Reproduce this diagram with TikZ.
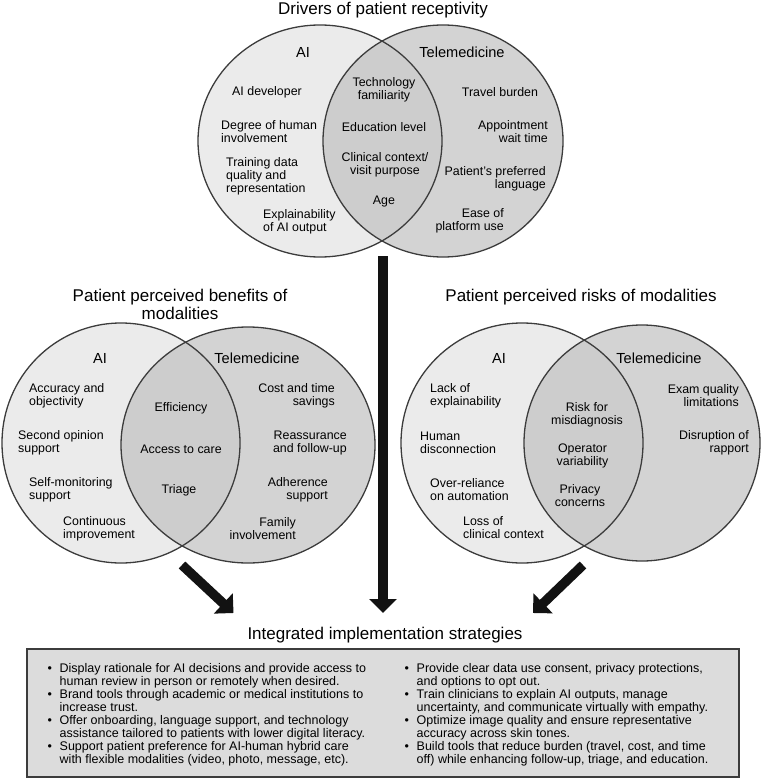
\documentclass[tikz,border=0pt]{standalone}
\usepackage{fontspec}
\setmainfont{Liberation Sans}
\usetikzlibrary{arrows.meta}
\definecolor{aifill}{HTML}{EBEBEB}
\definecolor{telefill}{HTML}{D3D3D3}
\definecolor{lensfill}{HTML}{CDCDCD}
\definecolor{ringcol}{HTML}{3C3C3C}
\definecolor{boxfill}{HTML}{DCDCDC}
\newcommand{\bul}{\makebox[12pt][l]{\textbullet}}
\newcommand{\ind}{\hspace*{12pt}}

\begin{document}
\begin{tikzpicture}[x=1pt, y=-1pt,
    heading/.style={font=\fontsize{17}{18}\selectfont, align=center, inner sep=0pt},
    setname/.style={font=\fontsize{14.6}{16}\selectfont, inner sep=0pt},
    entry/.style={font=\fontsize{12.4}{13}\selectfont, inner sep=0pt},
    ring/.style={draw=ringcol, line width=1.3pt},
    bigarrow/.style={line width=9.5pt, draw=black!93, -{Triangle[width=27pt,length=14pt]}},
    ]
    \useasboundingbox (0,0) rectangle (762,778);
    % Draw the three Venn diagrams (AI left, telemedicine right)
    \foreach \ax/\ay/\arx/\ary/\bx/\by/\brx/\bry in {320/141/122/116/443/141/120/116, 121/443/119/120/248/445/127/118, 522/443/121/120/642/443/118/118} {
        \fill[aifill] (\ax,\ay) ellipse [x radius=\arx pt, y radius=\ary pt];
        \fill[telefill] (\bx,\by) ellipse [x radius=\brx pt, y radius=\bry pt];
        \begin{scope}
            \clip (\ax,\ay) ellipse [x radius=\arx pt, y radius=\ary pt];
            \fill[lensfill] (\bx,\by) ellipse [x radius=\brx pt, y radius=\bry pt];
        \end{scope}
        \draw[ring] (\ax,\ay) ellipse [x radius=\arx pt, y radius=\ary pt];
        \draw[ring] (\bx,\by) ellipse [x radius=\brx pt, y radius=\bry pt];
    }
    % Headings
    \node[heading] (drivers) at (383,10) {Drivers of patient receptivity};
    \node[heading] (benefits) at (180,304) {Patient perceived benefits of\\modalities};
    \node[heading] (risks) at (581,297) {Patient perceived risks of modalities};
    \node[heading] (strategies) at (385,635) {Integrated implementation strategies};
    % Set names
    \foreach \n/\x/\y/\txt in {aiA/303/52/AI, telA/462/52/Telemedicine, aiB/100/358/AI, telB/257/358/Telemedicine, aiC/499/358/AI, telC/659/358/Telemedicine} {
        \node[setname] (\n) at (\x,\y) {\txt};
    }
    % Left-aligned entries
    \foreach \n/\x/\y/\txt in {dA1/232/92/{AI developer}, dA2/221/131.5/{Degree of human\\involvement}, dA3/226/176/{Training data\\quality and\\representation}, dA4/263/221.5/{Explainability\\of AI output},
        bA1/29/396/{Accuracy and\\objectivity}, bA2/18/443/{Second opinion\\support}, bA3/29/490/{Self-monitoring\\support}, bA4/63/528.5/{Continuous\\improvement},
        rA1/430/396/{Lack of\\explainability}, rA2/420/443/{Human\\disconnection}, rA3/430/490/{Over-reliance\\on automation}, rA4/463/528/{Loss of\\clinical context}} {
        \node[entry, anchor=west, align=left] (\n) at (\x,\y) {\txt};
    }
    % Centred entries
    \foreach \n/\x/\y/\txt in {dS1/384/90/{Technology\\familiarity}, dS2/384/127/{Education level}, dS3/385/165/{Clinical context/\\visit purpose}, dS4/384/202/{Age}, dT1/500/92/{Travel burden},
        bS1/181/408/{Efficiency}, bS2/181/449/{Access to care}, bS3/179/490/{Triage},
        rS1/587/414.5/{Risk for\\misdiagnosis}, rS2/582.5/456/{Operator\\variability}, rS3/580/496/{Privacy\\concerns}} {
        \node[entry, align=center] (\n) at (\x,\y) {\txt};
    }
    % Right-aligned entries
    \foreach \n/\x/\y/\txt in {dT2/548/132/{Appointment\\wait time}, dT3/546/179/{Patient's preferred\\language}, dT4/504/221/{Ease of\\platform use},
        bT1/335/396/{Cost and time\\savings}, bT2/347/443/{Reassurance\\and follow-up}, bT3/328/490/{Adherence\\support}, bT4/296/528.5/{Family\\involvement},
        rT1/739/396/{Exam quality\\limitations}, rT2/749/443/{Disruption of\\rapport}} {
        \node[entry, anchor=east, align=right] (\n) at (\x,\y) {\txt};
    }
    % Strategy box
    \draw[draw=ringcol, fill=boxfill, line width=1.3pt] (27,649) rectangle (739,777);
    \node[font=\fontsize{12.5}{12.9}\selectfont, align=left, inner sep=0pt, anchor=north west] (listL) at (47.5,663.5) {%
        \bul Display rationale for AI decisions and provide access to\\
        \ind human review in person or remotely when desired.\\
        \bul Brand tools through academic or medical institutions to\\
        \ind increase trust.\\
        \bul Offer onboarding, language support, and technology\\
        \ind assistance tailored to patients with lower digital literacy.\\
        \bul Support patient preference for AI-human hybrid care\\
        \ind with flexible modalities (video, photo, message, etc).};
    \node[font=\fontsize{12.5}{12.9}\selectfont, align=left, inner sep=0pt, anchor=north west] (listR) at (404.5,663.5) {%
        \bul Provide clear data use consent, privacy protections,\\
        \ind and options to opt out.\\
        \bul Train clinicians to explain AI outputs, manage\\
        \ind uncertainty, and communicate virtually with empathy.\\
        \bul Optimize image quality and ensure representative\\
        \ind accuracy across skin tones.\\
        \bul Build tools that reduce burden (travel, cost, and time\\
        \ind off) while enhancing follow-up, triage, and education.};
    % Arrows into the strategies
    \coordinate (fromB) at (182,565);
    \coordinate (toB) at (233.5,613);
    \coordinate (fromD) at (383,256);
    \coordinate (toD) at (383,613);
    \coordinate (fromR) at (583,565);
    \coordinate (toR) at (533,613);
    \draw[bigarrow] (fromB) -- (toB);
    \draw[bigarrow] (fromD) -- (toD);
    \draw[bigarrow] (fromR) -- (toR);
\end{tikzpicture}
\end{document}
